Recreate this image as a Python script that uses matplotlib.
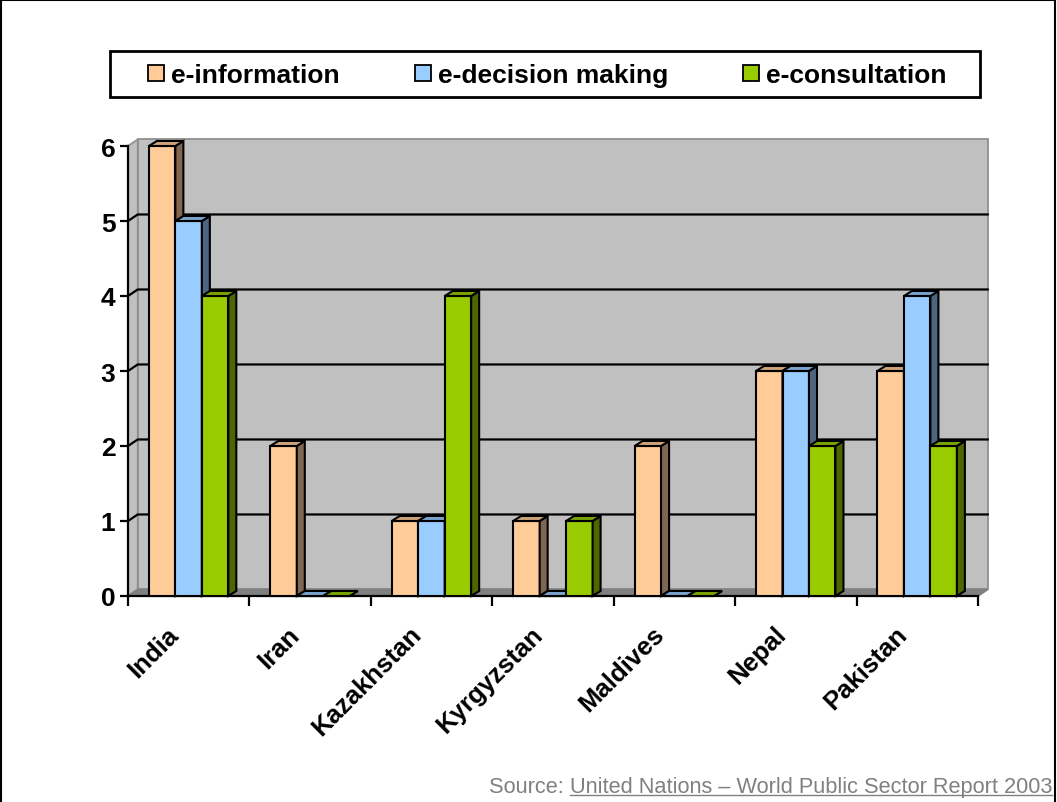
import matplotlib
matplotlib.use('Agg')
import numpy as np
import matplotlib.pyplot as plt
from matplotlib.patches import Polygon, Rectangle
from matplotlib.lines import Line2D
from matplotlib.transforms import ScaledTranslation

plt.rcParams['font.family'] = ['Liberation Sans', 'DejaVu Sans']

countries = ['India', 'Iran', 'Kazakhstan', 'Kyrgyzstan', 'Maldives', 'Nepal', 'Pakistan']
series_names = ['e-information', 'e-decision making', 'e-consultation']
e_information = [6, 2, 1, 1, 2, 3, 3]
e_decision_making = [5, 0, 1, 0, 0, 3, 4]
e_consultation = [4, 0, 4, 1, 0, 2, 2]
y_ticks = [0, 1, 2, 3, 4, 5, 6]
source_prefix = 'Source: '
source_link = 'United Nations \u2013 World Public Sector Report 2003'

front_colors = ['#FFCC99', '#99CCFF', '#99CC00']
side_colors = ['#806650', '#4D6680', '#4D6600']
top_colors = ['#CCA37A', '#7AA3CC', '#7AA300']

W, H = 1057, 803
fig = plt.figure(figsize=(W / 100, H / 100), dpi=100)


def fx(px):
    return px / W


def fy(py):
    return 1 - py / H


ax = fig.add_axes([fx(128), fy(597), fx(978) - fx(128), fy(147) - fy(597)])
ax.set_xlim(-0.5, 6.5)
ax.set_ylim(0, 6)
ax.patch.set_visible(False)

# depth offsets (data units) for the walls and the bars
wdx, wdy = 0.08, 0.087
bdx, bdy = 0.066, 0.067


def poly(pts, fc, ec='black', lw=1.5, z=1):
    ax.add_patch(Polygon(pts, closed=True, facecolor=fc, edgecolor=ec,
                         linewidth=lw, zorder=z, clip_on=False, joinstyle='miter'))


x0, x1 = -0.5, 6.5
ytop = y_ticks[-1]
poly([(x0 + wdx, wdy), (x1 + wdx, wdy), (x1 + wdx, ytop + wdy), (x0 + wdx, ytop + wdy)],
     '#C0C0C0', ec='#909090', lw=1.3)
poly([(x0, 0), (x0 + wdx, wdy), (x0 + wdx, ytop + wdy), (x0, ytop)], '#C0C0C0', ec='#909090', lw=1.3)
poly([(x0, 0), (x1, 0), (x1 + wdx, wdy), (x0 + wdx, wdy)], '#808080', ec='#808080', lw=1.3)

for v in y_ticks[1:-1]:
    ax.plot([x0, x0 + wdx, x1 + wdx], [v, v + wdy, v + wdy], color='black', lw=1.6,
            zorder=1.5, clip_on=False, solid_joinstyle='miter')

# bars
width = 0.218
start = -0.328
all_values = [e_information, e_decision_making, e_consultation]
for i in range(len(countries)):
    for s, vals in enumerate(all_values):
        left = i + start + s * width
        right = left + width
        h = vals[i]
        poly([(left, 0), (right, 0), (right, h), (left, h)], front_colors[s], z=3)
        poly([(right, 0), (right + bdx, bdy), (right + bdx, h + bdy), (right, h)], side_colors[s], z=3)
        poly([(left, h), (right, h), (right + bdx, h + bdy), (left + bdx, h + bdy)], top_colors[s], z=3)

for side in ['top', 'right']:
    ax.spines[side].set_visible(False)
for side in ['left', 'bottom']:
    ax.spines[side].set_linewidth(1.6)

ax.set_yticks(y_ticks)
ax.set_yticklabels([str(v) for v in y_ticks], fontsize=19, fontweight='bold')
ax.tick_params(axis='y', length=6, width=1.6, pad=3)

ax.set_xticks(range(len(countries)))
ax.set_xticklabels(countries, rotation=45, ha='right', va='top', fontsize=18.5, fontweight='bold')
ax.set_xticks(np.arange(-0.5, len(countries) + 0.5, 1), minor=True)
ax.tick_params(axis='x', which='major', length=0, pad=18.5)
ax.tick_params(axis='x', which='minor', length=7, width=1.6)
offset = ScaledTranslation(-5.5 / 100, 0, fig.dpi_scale_trans)
for lab in ax.get_xticklabels():
    lab.set_transform(lab.get_transform() + offset)

# legend box
fig.add_artist(Rectangle((fx(110), fy(98)), fx(980) - fx(110), fy(52) - fy(98),
                         transform=fig.transFigure, fill=False, ec='black', lw=2))
legend_x = [148, 415, 743]
for s, name in enumerate(series_names):
    px = legend_x[s]
    fig.add_artist(Rectangle((fx(px), fy(82)), fx(16), 16 / H, transform=fig.transFigure,
                             facecolor=front_colors[s], edgecolor='black', lw=1.3))
    fig.text(fx(px + 23), fy(83), name, fontsize=19, fontweight='bold', va='baseline')

# figure border
fig.add_artist(Rectangle((fx(0.7), -0.01), fx(1054.5), 1.01 - 0.7 / H, transform=fig.transFigure,
                         fill=False, ec='black', lw=1.5))

# source line with underlined link
renderer = fig.canvas.get_renderer()
link = fig.text(fx(1052), fy(793), source_link, fontsize=15.7, color='#808080',
                ha='right', va='baseline')
bb = link.get_window_extent(renderer)
fig.text(bb.x0 / W, fy(793), source_prefix, fontsize=15.7, color='#808080',
         ha='right', va='baseline')
fig.add_artist(Line2D([bb.x0 / W, bb.x1 / W], [fy(796), fy(796)], transform=fig.transFigure,
                      color='#808080', lw=1))

fig.savefig('out.png', dpi=100)
